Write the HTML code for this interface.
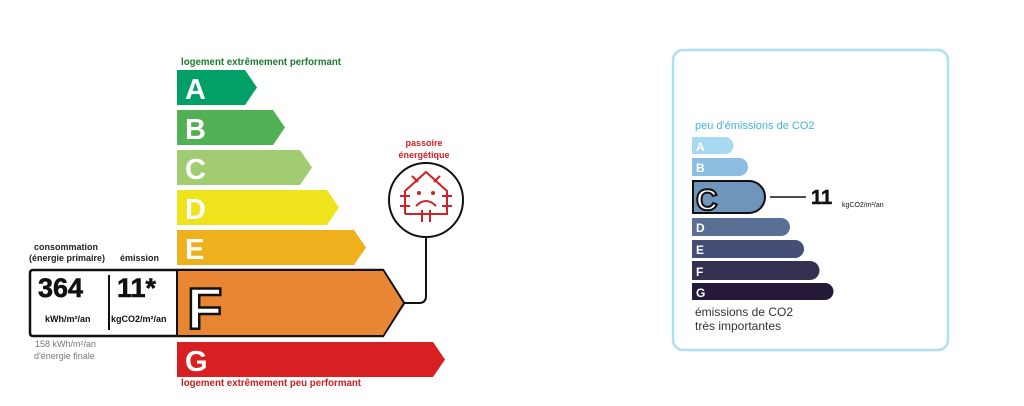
<!DOCTYPE html>
<html><head><meta charset="utf-8"><style>
body{margin:0;background:#fff;width:1024px;height:401px;overflow:hidden;font-family:"Liberation Sans",sans-serif}
</style></head><body>
<svg width="1024" height="401" xmlns="http://www.w3.org/2000/svg" font-family="Liberation Sans, sans-serif">
<text x="181" y="65" font-size="10" font-weight="bold" fill="#1e7a2e" textLength="160" lengthAdjust="spacingAndGlyphs">logement extrêmement performant</text>
<g font-weight="bold" font-size="29" fill="#fff">
<polygon points="177,70 245,70 257,87.5 245,105 177,105" fill="#00a066"/><text x="185" y="99">A</text>
<polygon points="177,110 273,110 285,127.5 273,145 177,145" fill="#52b054"/><text x="185" y="139">B</text>
<polygon points="177,150 300,150 312,167.5 300,185 177,185" fill="#a2cc72"/><text x="185" y="179">C</text>
<polygon points="177,190 327,190 339,207.5 327,225 177,225" fill="#efe41c"/><text x="185" y="219">D</text>
<polygon points="177,230 354,230 366,247.5 354,265 177,265" fill="#eeb01c"/><text x="185" y="259">E</text>
<polygon points="177,342 433,342 445,359.5 433,377 177,377" fill="#d81f22"/><text x="185" y="371">G</text>
</g>
<path d="M33,270 H383 L404,303 L383,336 H33 Q30,336 30,333 V273 Q30,270 33,270 Z" fill="#fff" stroke="#111" stroke-width="2.5"/>
<polygon points="177,271 383,271 403,303 383,335 177,335" fill="#e88634"/>
<line x1="177" y1="270" x2="177" y2="336" stroke="#111" stroke-width="2"/>
<text x="187" y="329" font-size="58" font-weight="bold" fill="#fff" stroke="#111" stroke-width="2.5">F</text>
<line x1="109" y1="275" x2="109" y2="330" stroke="#111" stroke-width="2"/>
<text x="38" y="297" font-size="27" font-weight="bold" fill="#111" stroke="#111" stroke-width="0.6">364</text>
<text x="117" y="297" font-size="27" font-weight="bold" fill="#111" stroke="#111" stroke-width="0.6">11*</text>
<text x="45" y="322" font-size="9" font-weight="bold" fill="#111">kWh/m²/an</text>
<text x="111" y="322" font-size="9" font-weight="bold" fill="#111">kgCO2/m²/an</text>
<text x="34" y="250" font-size="9" font-weight="bold" fill="#222">consommation</text>
<text x="29" y="261" font-size="9" font-weight="bold" fill="#222">(énergie primaire)</text>
<text x="120" y="261" font-size="9" font-weight="bold" fill="#222">émission</text>
<text x="35" y="347" font-size="9" fill="#777">158 kWh/m²/an</text>
<text x="34" y="359" font-size="9" fill="#777">d'énergie finale</text>
<text x="181" y="386" font-size="10" font-weight="bold" fill="#c81e22" textLength="180" lengthAdjust="spacingAndGlyphs">logement extrêmement peu performant</text>
<text x="424" y="146" font-size="9" font-weight="bold" fill="#d32027" text-anchor="middle">passoire</text>
<text x="424" y="158" font-size="9" font-weight="bold" fill="#d32027" text-anchor="middle">énergétique</text>
<circle cx="426" cy="200" r="37" fill="#fff" stroke="#111" stroke-width="2"/>
<path d="M426,237 V296 Q426,303 419,303 H404" fill="none" stroke="#111" stroke-width="2"/>
<g stroke="#d32027" stroke-width="2" fill="none">
<path d="M405,214 V191 L426,172 L447,191 V214 H405"/>
<path d="M416,206 Q426,196 436,206"/>
<line x1="400" y1="196" x2="410" y2="196"/><line x1="442" y1="196" x2="452" y2="196"/>
<line x1="400" y1="206" x2="410" y2="206"/><line x1="442" y1="206" x2="452" y2="206"/>
<line x1="412" y1="176" x2="418" y2="182"/><line x1="440" y1="176" x2="434" y2="182"/>
<line x1="422" y1="210" x2="422" y2="222"/><line x1="430" y1="210" x2="430" y2="222"/>
</g>
<circle cx="419" cy="193" r="2" fill="#d32027"/><circle cx="433" cy="193" r="2" fill="#d32027"/>
<rect x="673" y="50" width="275" height="300" rx="10" fill="#fff" stroke="#aee0f0" stroke-width="2.5"/>
<text x="695" y="129" font-size="11" fill="#3fb5e0">peu d'émissions de CO2</text>
<g font-weight="bold" font-size="12" fill="#fff">
<path d="M692,137 H725 A8.5,8.5 0 0 1 725,154 H692 Z" fill="#a7daf2"/><text x="696" y="151">A</text>
<path d="M692,158 H739 A9,9 0 0 1 739,176 H692 Z" fill="#8dbde0"/><text x="696" y="172">B</text>
<path d="M692,218 H781 A9,9 0 0 1 781,236 H692 Z" fill="#5a6f95"/><text x="696" y="232">D</text>
<path d="M692,240 H795 A9,9 0 0 1 795,258 H692 Z" fill="#454e76"/><text x="696" y="254">E</text>
<path d="M692,261 H810 A9.5,9.5 0 0 1 810,280 H692 Z" fill="#33314f"/><text x="696" y="276">F</text>
<path d="M692,283 H825 A8.5,8.5 0 0 1 825,300 H692 Z" fill="#251a3a"/><text x="696" y="297">G</text>
</g>
<path d="M693,181 H749 A16,16 0 0 1 749,213 H693 Z" fill="#6f95bb" stroke="#111" stroke-width="2"/>
<text x="696" y="210" font-size="30" font-weight="bold" fill="#fff" stroke="#111" stroke-width="2">C</text>
<line x1="770" y1="197" x2="806" y2="197" stroke="#111" stroke-width="1.5"/>
<text x="811" y="204" font-size="20" font-weight="bold" fill="#111" stroke="#111" stroke-width="0.5">11</text>
<text x="842" y="207" font-size="7" fill="#111">kgCO2/m²/an</text>
<text x="695" y="316" font-size="12" fill="#333">émissions de CO2</text>
<text x="695" y="330" font-size="12" fill="#333">très importantes</text>
</svg>
</body></html>
